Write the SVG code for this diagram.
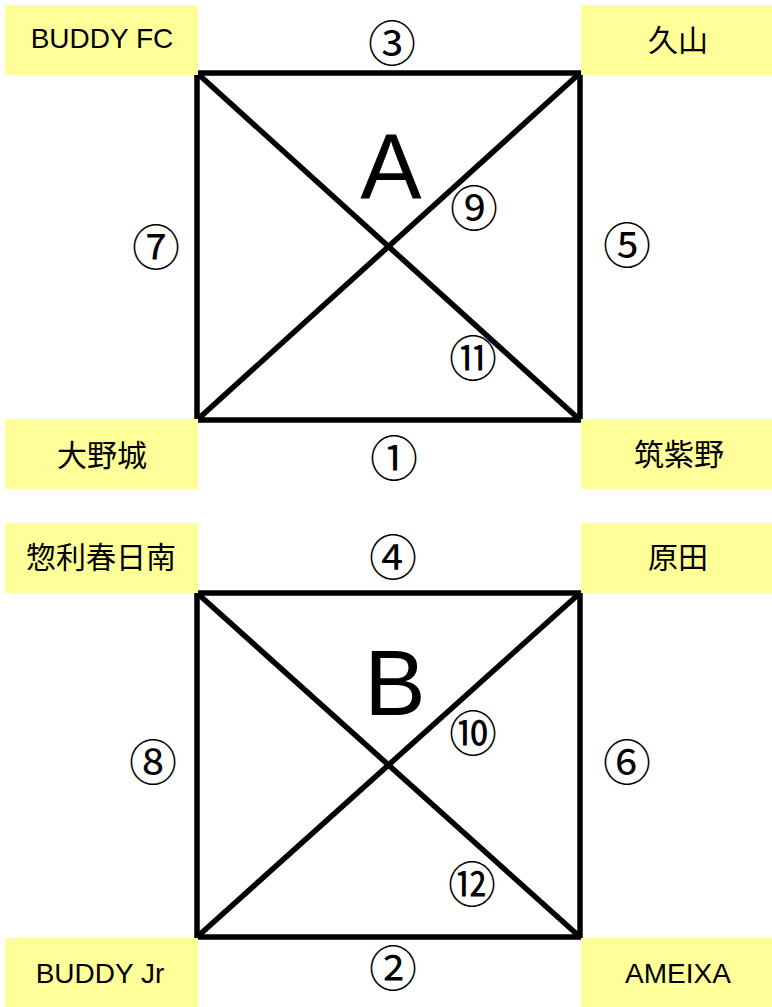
<svg xmlns="http://www.w3.org/2000/svg" width="772" height="1007" viewBox="0 0 772 1007">
<style>
.box{fill:#FFFF99;}
.lbl{font-family:"Liberation Sans","Noto Sans CJK JP",sans-serif;font-size:28px;fill:#000;text-anchor:middle;}
.jp{font-family:"Noto Sans CJK JP",sans-serif;font-size:30px;fill:#000;text-anchor:middle;dominant-baseline:central;}
.num{font-family:"Noto Sans CJK JP",sans-serif;font-size:48px;fill:#000;text-anchor:middle;dominant-baseline:central;}
.big{font-family:"Liberation Sans",sans-serif;font-size:92px;fill:#000;text-anchor:middle;}
.edge{stroke:#000;stroke-width:5.5;fill:none;}
</style>
<rect width="772" height="1007" fill="#fff"/>
<g id="connectors">
<rect class="edge" x="197" y="73" width="383" height="347"/>
<line class="edge" x1="197" y1="73" x2="580" y2="420"/>
<line class="edge" x1="580" y1="73" x2="197" y2="420"/>
<rect class="edge" x="197" y="593" width="383" height="344"/>
<line class="edge" x1="197" y1="593" x2="580" y2="937"/>
<line class="edge" x1="580" y1="593" x2="197" y2="937"/>
</g>
<g id="node-buddyfc"><rect class="box" x="5" y="5" width="193" height="70"/><text class="lbl" x="102" y="48">BUDDY FC</text></g>
<g id="node-hisayama"><rect class="box" x="581" y="5" width="191" height="70"/><text class="jp" x="678" y="38">久山</text></g>
<g id="node-onojo"><rect class="box" x="5" y="419" width="193" height="70"/><text class="jp" x="102" y="453">大野城</text></g>
<g id="node-chikushino"><rect class="box" x="581" y="419" width="191" height="70"/><text class="jp" x="679" y="452">筑紫野</text></g>
<g id="node-sori"><rect class="box" x="5" y="523" width="193" height="70"/><text class="jp" x="101" y="555">惣利春日南</text></g>
<g id="node-harada"><rect class="box" x="581" y="523" width="191" height="70"/><text class="jp" x="678" y="555">原田</text></g>
<g id="node-buddyjr"><rect class="box" x="5" y="938" width="193" height="69"/><text class="lbl" x="100" y="983">BUDDY Jr</text></g>
<g id="node-ameixa"><rect class="box" x="581" y="938" width="191" height="69"/><text class="lbl" x="678" y="983">AMEIXA</text></g>
<g id="group-a">
<text class="big" x="391" y="199">A</text>
<text class="num" x="392" y="40">③</text>
<text class="num" x="156" y="244">⑦</text>
<text class="num" x="627" y="242">⑤</text>
<text class="num" x="474" y="205">⑨</text>
<text class="num" x="473" y="355">⑪</text>
<text class="num" x="394" y="455">①</text>
</g>
<g id="group-b">
<text class="big" x="395" y="715">B</text>
<text class="num" x="393" y="554">④</text>
<text class="num" x="153" y="759">⑧</text>
<text class="num" x="627" y="759">⑥</text>
<text class="num" x="473" y="730">⑩</text>
<text class="num" x="472" y="881">⑫</text>
<text class="num" x="393" y="965">②</text>
</g>
</svg>
